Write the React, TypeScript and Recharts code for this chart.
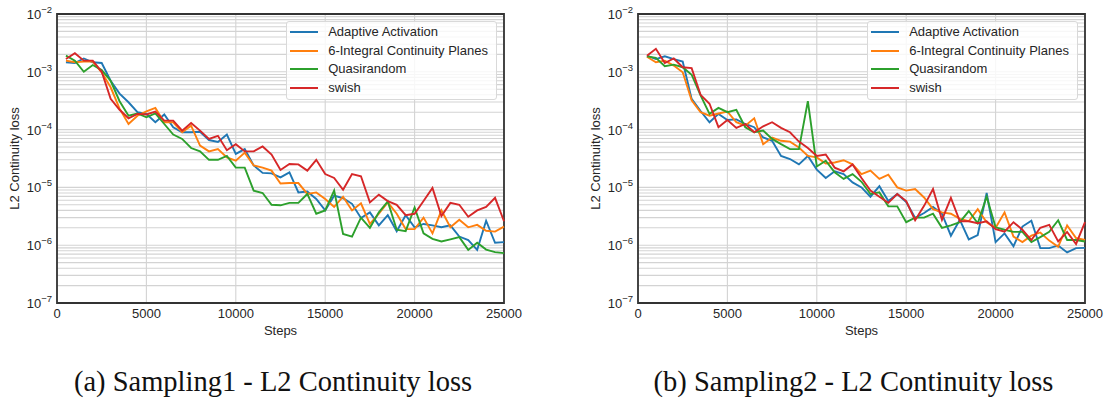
import React from 'react';
import { LineChart, Line, XAxis, YAxis, CartesianGrid, Legend, ReferenceArea } from 'recharts';

const steps = [
  500, 1000, 1500, 2000, 2500, 3000, 3500, 4000, 4500, 5000,
  5500, 6000, 6500, 7000, 7500, 8000, 8500, 9000, 9500, 10000,
  10500, 11000, 11500, 12000, 12500, 13000, 13500, 14000, 14500, 15000,
  15500, 16000, 16500, 17000, 17500, 18000, 18500, 19000, 19500, 20000,
  20500, 21000, 21500, 22000, 22500, 23000, 23500, 24000, 24500, 25000,
];

// Sampling1
const s1Adaptive = [
  1.46e-3, 1.42e-3, 1.7e-3, 1.46e-3, 1.42e-3, 7.0e-4, 4.2e-4, 2.97e-4, 2.0e-4, 1.87e-4,
  1.34e-4, 1.83e-4, 1.1e-4, 9.0e-5, 9.0e-5, 9.2e-5, 6.6e-5, 6.1e-5, 8.2e-5, 3.8e-5,
  4.6e-5, 2.4e-5, 1.78e-5, 1.75e-5, 1.49e-5, 1.82e-5, 8.2e-6, 8.5e-6, 6.3e-6, 4.0e-6,
  7.2e-6, 6.5e-6, 5.2e-6, 2.95e-6, 3.7e-6, 2.2e-6, 3.3e-6, 1.74e-6, 3.3e-6, 2.04e-6,
  2.33e-6, 2.2e-6, 2.04e-6, 2.2e-6, 1.41e-6, 1.23e-6, 8.3e-7, 2.65e-6, 1.1e-6, 1.13e-6,
];
const s1Integral = [
  1.56e-3, 1.46e-3, 1.5e-3, 1.5e-3, 9.8e-4, 5.4e-4, 2.3e-4, 1.25e-4, 1.74e-4, 2.07e-4,
  2.37e-4, 1.34e-4, 1.34e-4, 9.0e-5, 1.17e-4, 5.3e-5, 4.2e-5, 4.6e-5, 3.3e-5, 2.9e-5,
  4.0e-5, 2.4e-5, 2.2e-5, 1.95e-5, 1.17e-5, 1.19e-5, 1.19e-5, 7.7e-6, 8.2e-6, 6.3e-6,
  4.6e-6, 6.9e-6, 4.0e-6, 5.3e-6, 2.33e-6, 3.5e-6, 5.5e-6, 3.5e-6, 1.9e-6, 1.9e-6,
  3.0e-6, 1.6e-6, 4.0e-6, 2.04e-6, 2.75e-6, 2.04e-6, 2.25e-6, 1.78e-6, 1.72e-6, 2.1e-6,
];
const s1Quasi = [
  1.9e-3, 1.56e-3, 1.0e-3, 1.31e-3, 1.07e-3, 7.0e-4, 3.1e-4, 1.74e-4, 1.9e-4, 1.63e-4,
  1.9e-4, 1.25e-4, 8.2e-5, 6.9e-5, 4.8e-5, 4.2e-5, 3.0e-5, 3.0e-5, 3.5e-5, 2.2e-5,
  2.2e-5, 8.8e-6, 8.0e-6, 5.0e-6, 4.9e-6, 5.4e-6, 5.4e-6, 7.7e-6, 3.5e-6, 4.0e-6,
  8.8e-6, 1.56e-6, 1.41e-6, 3.0e-6, 2.0e-6, 3.7e-6, 5.7e-6, 1.85e-6, 1.75e-6, 4.5e-6,
  1.6e-6, 1.29e-6, 1.16e-6, 1.26e-6, 1.38e-6, 8.3e-7, 1.1e-6, 8.4e-7, 7.6e-7, 7.3e-7,
];
const s1Swish = [
  1.66e-3, 2.1e-3, 1.56e-3, 1.56e-3, 1.0e-3, 3.4e-4, 2.2e-4, 1.57e-4, 1.87e-4, 1.83e-4,
  2.05e-4, 1.43e-4, 1.43e-4, 9.6e-5, 1.3e-4, 9.6e-5, 6.9e-5, 7.8e-5, 4.4e-5, 5.6e-5,
  4.2e-5, 4.2e-5, 5.1e-5, 3.7e-5, 2.0e-5, 2.54e-5, 2.5e-5, 1.95e-5, 3.0e-5, 1.7e-5,
  1.46e-5, 9.1e-6, 1.7e-5, 1.56e-5, 5.5e-6, 7.5e-6, 5.8e-6, 5.0e-6, 3.3e-6, 3.5e-6,
  5.8e-6, 9.8e-6, 3.2e-6, 5.4e-6, 5.0e-6, 3.1e-6, 4.0e-6, 4.6e-6, 6.6e-6, 2.6e-6,
];

// Sampling2
const s2Adaptive = [
  1.9e-3, 1.66e-3, 1.85e-3, 1.66e-3, 1.5e-3, 3.4e-4, 2.1e-4, 1.34e-4, 1.87e-4, 1.47e-4,
  1.5e-4, 1.25e-4, 1.1e-4, 7.3e-5, 6.4e-5, 3.5e-5, 3.1e-5, 2.5e-5, 3.5e-5, 2.03e-5,
  1.46e-5, 1.9e-5, 1.7e-5, 1.22e-5, 1.0e-5, 6.9e-6, 1.05e-5, 5.8e-6, 7.7e-6, 5.6e-6,
  2.95e-6, 3.6e-6, 4.6e-6, 3.5e-6, 1.46e-6, 2.75e-6, 1.26e-6, 1.5e-6, 8.0e-6, 1.13e-6,
  1.6e-6, 9.6e-7, 2.1e-6, 2.65e-6, 8.9e-7, 8.9e-7, 9.9e-7, 7.5e-7, 8.9e-7, 9.0e-7,
];
const s2Integral = [
  1.82e-3, 1.46e-3, 1.56e-3, 1.28e-3, 9.8e-4, 3.2e-4, 2.0e-4, 1.74e-4, 1.9e-4, 2.05e-4,
  1.34e-4, 1.17e-4, 1.57e-4, 5.6e-5, 7.3e-5, 6.4e-5, 6.2e-5, 4.9e-5, 3.5e-5, 3.3e-5,
  2.6e-5, 2.7e-5, 2.95e-5, 2.5e-5, 1.7e-5, 1.95e-5, 1.4e-5, 1.66e-5, 1.0e-5, 8.8e-6,
  9.4e-6, 6.7e-6, 4.2e-6, 3.7e-6, 3.5e-6, 2.85e-6, 2.6e-6, 4.2e-6, 2.5e-6, 2.0e-6,
  3.7e-6, 1.41e-6, 1.13e-6, 1.46e-6, 1.66e-6, 1.2e-6, 9.4e-7, 2.2e-6, 1.33e-6, 1.23e-6,
];
const s2Quasi = [
  1.85e-3, 1.74e-3, 1.25e-3, 1.33e-3, 1.2e-3, 8.9e-4, 3.9e-4, 1.87e-4, 2.37e-4, 2.0e-4,
  2.2e-4, 1.1e-4, 9.0e-5, 9.6e-5, 6.9e-5, 5.6e-5, 4.6e-5, 4.6e-5, 3.1e-4, 2.3e-5,
  2.9e-5, 1.82e-5, 1.4e-5, 1.7e-5, 1.25e-5, 7.7e-6, 8.2e-6, 4.7e-6, 4.7e-6, 2.5e-6,
  3.0e-6, 3.0e-6, 3.5e-6, 2.0e-6, 2.2e-6, 2.5e-6, 3.9e-6, 2.4e-6, 6.9e-6, 2.04e-6,
  1.85e-6, 1.7e-6, 1.7e-6, 1.13e-6, 1.38e-6, 1.7e-6, 2.7e-6, 1.23e-6, 1.23e-6, 1.16e-6,
];
const s2Swish = [
  1.9e-3, 2.5e-3, 1.42e-3, 1.7e-3, 1.2e-3, 1.16e-3, 4.0e-4, 2.8e-4, 1.1e-4, 1.47e-4,
  1.07e-4, 1.25e-4, 9.0e-5, 1.14e-4, 1.34e-4, 1.07e-4, 9.0e-5, 6.2e-5, 4.8e-5, 3.5e-5,
  3.7e-5, 2.2e-5, 1.9e-5, 2.5e-5, 1.45e-5, 8.8e-6, 6.9e-6, 5.4e-6, 7.7e-6, 5.8e-6,
  2.7e-6, 4.8e-6, 9.4e-6, 2.75e-6, 6.6e-6, 2.6e-6, 2.6e-6, 2.4e-6, 2.6e-6, 1.9e-6,
  1.72e-6, 2.5e-6, 1.85e-6, 1.23e-6, 2.0e-6, 2.25e-6, 1.16e-6, 1.7e-6, 1.05e-6, 2.5e-6,
];

const seriesKeys = ['adaptive', 'integral', 'quasi', 'swish'];
const seriesNames = ['Adaptive Activation', '6-Integral Continuity Planes', 'Quasirandom', 'swish'];
const seriesColors = ['#1f77b4', '#ff7f0e', '#2ca02c', '#d62728'];

const xTicks = [0, 5000, 10000, 15000, 20000, 25000];
const yDecades = [1e-7, 1e-6, 1e-5, 1e-4, 1e-3, 1e-2];
const yMinorMultipliers = [2, 3, 4, 5, 6, 7, 8, 9];
const xLabel = 'Steps';
const yLabel = 'L2 Continuity loss';
const captions = ['(a) Sampling1 - L2 Continuity loss', '(b) Sampling2 - L2 Continuity loss'];

const SANS = '"Liberation Sans", Arial, sans-serif';
const TEXT = '#262626';

const yGridTicks: number[] = [];
yDecades.forEach((d, i) => {
  yGridTicks.push(d);
  if (i < yDecades.length - 1) yMinorMultipliers.forEach((m) => yGridTicks.push(m * d));
});

function buildTable(a: number[], b: number[], c: number[], d: number[]) {
  return steps.map((s, i) => ({ step: s, adaptive: a[i], integral: b[i], quasi: c[i], swish: d[i] }));
}

const table1 = buildTable(s1Adaptive, s1Integral, s1Quasi, s1Swish);
const table2 = buildTable(s2Adaptive, s2Integral, s2Quasi, s2Swish);

const YTick = (props: any) => {
  const { x, y, payload } = props;
  const v = payload.value;
  const l = Math.log10(v);
  const e = Math.round(l);
  if (Math.abs(l - e) > 1e-6) return <g />;
  return (
    <text x={x - 5} y={y + 5} textAnchor="end" fill={TEXT} fontFamily={SANS} fontSize={13}>
      10
      <tspan dy={-6} fontSize={9.5}>{'\u2212' + Math.abs(e)}</tspan>
    </text>
  );
};

const XTick = (props: any) => {
  const { x, y, payload } = props;
  return (
    <text x={x} y={y + 15.3} textAnchor="middle" fill={TEXT} fontFamily={SANS} fontSize={13}>
      {payload.value}
    </text>
  );
};

const XLabel = (props: any) => {
  const vb = props.viewBox || { x: 57, y: 303, width: 447, height: 40 };
  return (
    <text x={vb.x + vb.width / 2} y={vb.y + 32} textAnchor="middle" fill={TEXT} fontFamily={SANS} fontSize={13}>
      {xLabel}
    </text>
  );
};

const YLabel = (props: any) => {
  const vb = props.viewBox || { x: 0, y: 14, width: 57, height: 289 };
  const cx = vb.x + 19;
  const cy = vb.y + vb.height / 2;
  return (
    <text x={cx} y={cy} transform={`rotate(-90, ${cx}, ${cy})`} textAnchor="middle" fill={TEXT} fontFamily={SANS} fontSize={13}>
      {yLabel}
    </text>
  );
};

const LegendBox = () => (
  <div
    style={{
      position: 'relative',
      width: 211,
      height: 79,
      boxSizing: 'border-box',
      border: '1px solid #d9d9d9',
      borderRadius: 3,
      background: 'rgba(255,255,255,0.82)',
      fontFamily: SANS,
      fontSize: 13,
      color: TEXT,
    }}
  >
    {seriesNames.map((n, i) => (
      <div key={n} style={{ position: 'absolute', left: 0, top: 10 + i * 18.9 - 9, height: 18, width: 209 }}>
        <div style={{ position: 'absolute', left: 3.5, top: 8, width: 28, height: 2, background: seriesColors[i] }} />
        <span style={{ position: 'absolute', left: 41.5, top: 0, lineHeight: '18px', whiteSpace: 'nowrap' }}>{n}</span>
      </div>
    ))}
  </div>
);

const Panel = ({ data }: { data: any[] }) => (
  <LineChart width={540} height={350} data={data} margin={{ top: 14, right: 36, bottom: 7, left: 0 }}>
    <CartesianGrid stroke="#d3d3d3" strokeWidth={1.1} />
    <XAxis
      dataKey="step"
      type="number"
      domain={[0, 25000]}
      ticks={xTicks}
      interval={0}
      height={40}
      tickSize={0}
      tickMargin={0}
      axisLine={false}
      tickLine={false}
      tick={<XTick />}
      label={<XLabel />}
    />
    <YAxis
      type="number"
      scale="log"
      domain={[1e-7, 1e-2]}
      allowDataOverflow
      ticks={yGridTicks}
      interval={0}
      width={57}
      tickSize={0}
      tickMargin={0}
      axisLine={false}
      tickLine={false}
      tick={<YTick />}
      label={<YLabel />}
    />
    {seriesKeys.map((k, i) => (
      <Line
        key={k}
        dataKey={k}
        name={seriesNames[i]}
        stroke={seriesColors[i]}
        strokeWidth={1.9}
        dot={false}
        activeDot={false}
        type="linear"
        isAnimationActive={false}
      />
    ))}
    <ReferenceArea x1={0} x2={25000} y1={1e-7} y2={1e-2} fill="none" stroke="#333333" strokeWidth={1.8} ifOverflow="visible" />
    <Legend
      layout="horizontal"
      verticalAlign="middle"
      align="center"
      wrapperStyle={{ left: 285.7, top: 20.7, width: 211, height: 79 }}
      content={<LegendBox />}
    />
  </LineChart>
);

export default function App() {
  return (
    <div style={{ position: 'absolute', left: 0, top: 0, width: 1105, height: 401, background: '#fff', overflow: 'hidden' }}>
      <div style={{ position: 'absolute', left: 0, top: 0 }}>
        <Panel data={table1} />
      </div>
      <div style={{ position: 'absolute', left: 581, top: 0 }}>
        <Panel data={table2} />
      </div>
      <svg width={1105} height={401} style={{ position: 'absolute', left: 0, top: 0, pointerEvents: 'none' }}>
        <text x={273} y={391} textAnchor="middle" fontFamily='"Liberation Serif", "Times New Roman", serif' fontSize={28.5} fill="#111">
          {captions[0]}
        </text>
        <text x={853.5} y={391} textAnchor="middle" fontFamily='"Liberation Serif", "Times New Roman", serif' fontSize={28.5} fill="#111">
          {captions[1]}
        </text>
      </svg>
    </div>
  );
}
